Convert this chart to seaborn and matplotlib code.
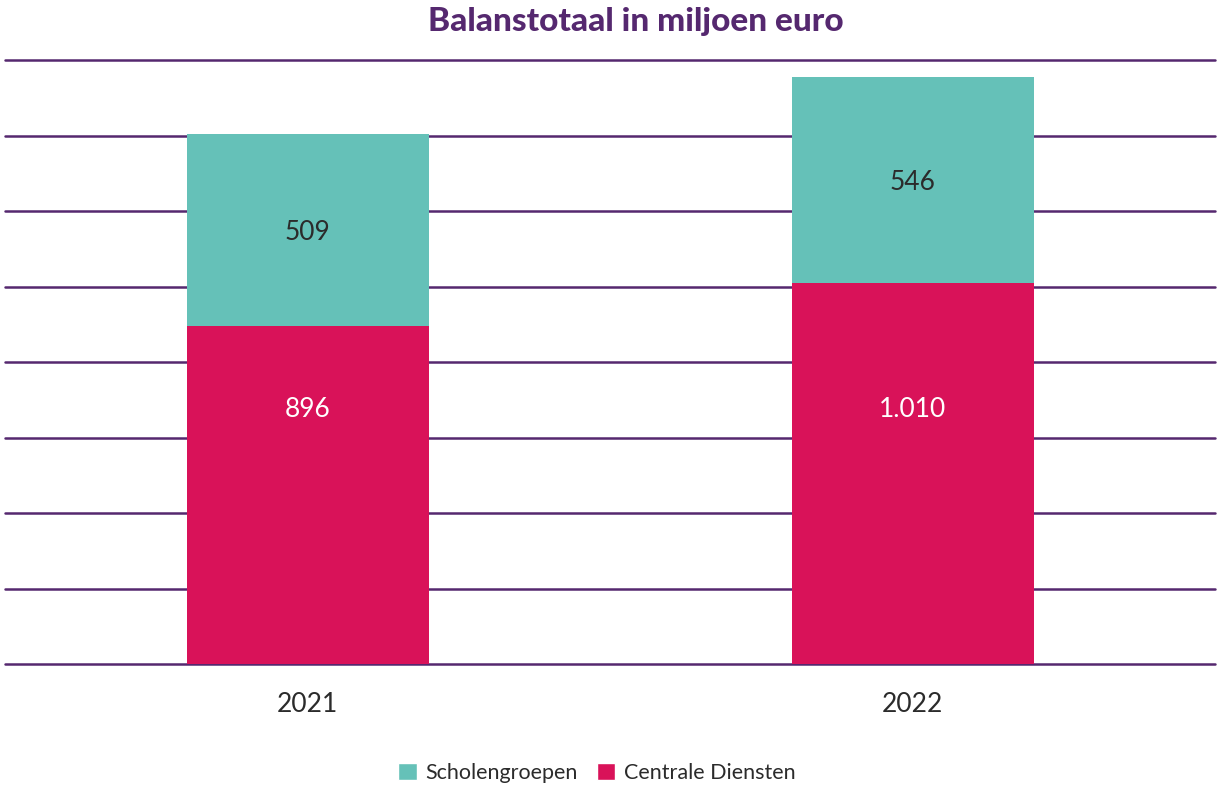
import matplotlib
matplotlib.use("Agg")
import matplotlib.pyplot as plt
import seaborn as sns
import pandas as pd
from matplotlib.patches import Patch

years = ["2021", "2022"]
centrale_diensten = [896, 1010]
scholengroepen = [509, 546]
label_centrale = ["896", "1.010"]
label_scholen = ["509", "546"]

teal = "#65c1b8"
crimson = "#d91259"
purple = "#55286f"
text_dark = "#2b2b2b"

sns.set_theme(style="white")
plt.rcParams["font.family"] = ["Lato", "DejaVu Sans"]

totals = [c + s for c, s in zip(centrale_diensten, scholengroepen)]
df = pd.DataFrame({"jaar": years, "totaal": totals, "centrale": centrale_diensten})

fig = plt.figure(figsize=(12.18, 7.87), dpi=100)
ax = fig.add_axes([5 / 1218, (787 - 664) / 787, 1210 / 1218, (664 - 60) / 787])

sns.barplot(data=df, x="jaar", y="totaal", color=teal, width=0.4, ax=ax,
            saturation=1, zorder=3, linewidth=0)
sns.barplot(data=df, x="jaar", y="centrale", color=crimson, width=0.4, ax=ax,
            saturation=1, zorder=3, linewidth=0)

ax.set_xlim(-0.5, 1.5)
ax.set_ylim(0, 1600)
ax.set_yticks(range(0, 1601, 200))
ax.yaxis.grid(True, color=purple, linewidth=1.8, zorder=0)
for gl in ax.get_ygridlines():
    gl.set_clip_on(False)
ax.set_axisbelow(True)
for s in ax.spines.values():
    s.set_visible(False)
ax.tick_params(axis="y", left=False, labelleft=False)
ax.tick_params(axis="x", bottom=False, labelsize=19, colors=text_dark, pad=14)
ax.set_xlabel("")
ax.set_ylabel("")

# value labels: crimson labels share one height, teal labels sit mid-segment
red_label_y = 675
for i in range(len(years)):
    c = centrale_diensten[i]
    s = scholengroepen[i]
    ax.text(i, red_label_y, label_centrale[i], ha="center", va="center",
            fontsize=19, color="white", zorder=5)
    ax.text(i, c + s / 2 - 8, label_scholen[i], ha="center", va="center",
            fontsize=19, color=text_dark, zorder=5)

fig.suptitle("Balanstotaal in miljoen euro", x=0.522, y=1 - 21 / 787, va="center",
             fontsize=24, fontweight="black", color=purple)

handles = [Patch(facecolor=teal, label="Scholengroepen"),
           Patch(facecolor=crimson, label="Centrale Diensten")]
fig.legend(handles=handles, loc="center", bbox_to_anchor=(0.49, 1 - 773 / 787),
           ncol=2, frameon=False, fontsize=15.5, handlelength=0.85, handleheight=0.85,
           handletextpad=0.4, columnspacing=0.9, labelcolor=text_dark)

fig.savefig("out.png", dpi=100, facecolor="white")
